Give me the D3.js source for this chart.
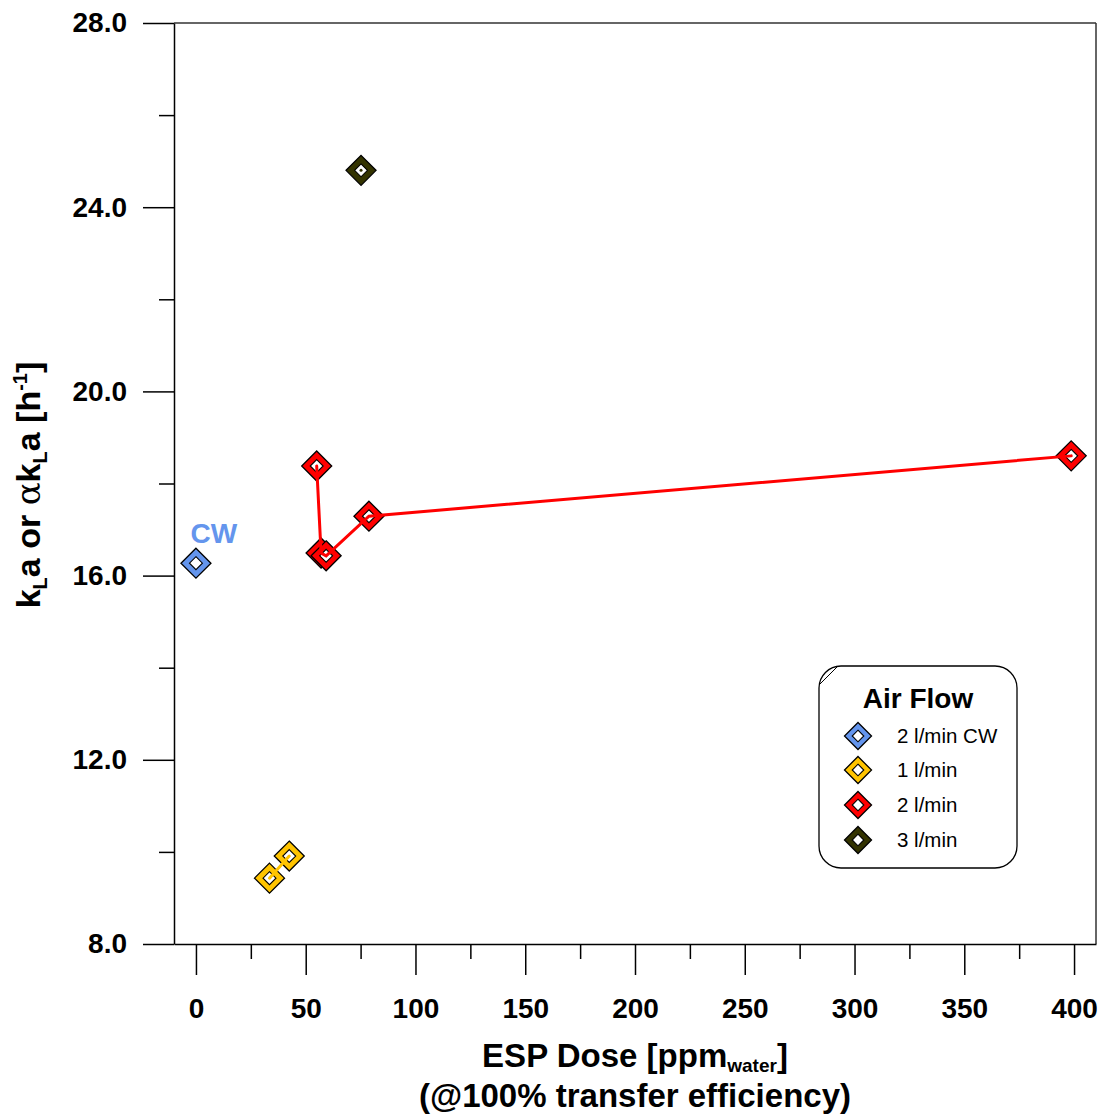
<!DOCTYPE html>
<html><head><meta charset="utf-8">
<script src="https://cdn.jsdelivr.net/npm/d3@7"></script>
<style>
body{margin:0;background:#fff;}
svg{display:block;font-family:"Liberation Sans",Arial,sans-serif;}
</style></head>
<body><svg id="c" width="1102" height="1119"></svg>
<script>
// ---- data ----
const seriesNames = ["2 l/min CW", "1 l/min", "2 l/min", "3 l/min"];
const seriesColors = ["#6495ED", "#FFC400", "#FF0000", "#333300"];
const cwX = [0];          const cwY = [16.27];
const f1X = [33.5, 42.5]; const f1Y = [9.43, 9.91];
const f2X = [55, 57, 59.3, 78.8, 398.7]; const f2Y = [18.38, 16.49, 16.43, 17.29, 18.6];
const f3X = [75.2];       const f3Y = [24.8];
const xMajor = [0, 50, 100, 150, 200, 250, 300, 350, 400];
const xMinor = [25, 75, 125, 175, 225, 275, 325, 375];
const yMajor = [8, 12, 16, 20, 24, 28];
const yMinor = [10, 14, 18, 22, 26];

const series = [
  {name: seriesNames[0], color: seriesColors[0], xs: cwX, ys: cwY, line: false},
  {name: seriesNames[1], color: seriesColors[1], xs: f1X, ys: f1Y, line: true},
  {name: seriesNames[2], color: seriesColors[2], xs: f2X, ys: f2Y, line: true},
  {name: seriesNames[3], color: seriesColors[3], xs: f3X, ys: f3Y, line: true}
];

const svg = d3.select("#c");
const L = 174, R = 1096, T = 23, B = 944;
const x = d3.scaleLinear().domain([-10, 410]).range([L, R]);
const y = d3.scaleLinear().domain([8, 28]).range([B, T]);

// frame top/right
svg.append("line").attr("x1", L).attr("x2", R).attr("y1", T).attr("y2", T).attr("stroke", "#333").attr("stroke-width", 1.5);
svg.append("line").attr("x1", R).attr("x2", R).attr("y1", T).attr("y2", B).attr("stroke", "#333").attr("stroke-width", 1.5);

// axes
const fmt = d3.format(".1f");
const gx = svg.append("g").attr("transform", `translate(0,${B})`)
  .call(d3.axisBottom(x).tickValues(xMajor).tickSize(31).tickSizeOuter(0).tickPadding(23).tickFormat(d3.format("d")));
const gxm = svg.append("g").attr("transform", `translate(0,${B})`)
  .call(d3.axisBottom(x).tickValues(xMinor).tickSize(15).tickSizeOuter(0).tickFormat(""));
const gy = svg.append("g").attr("transform", `translate(${L},0)`)
  .call(d3.axisLeft(y).tickValues(yMajor).tickSize(31).tickSizeOuter(0).tickPadding(16).tickFormat(fmt));
const gym = svg.append("g").attr("transform", `translate(${L},0)`)
  .call(d3.axisLeft(y).tickValues(yMinor).tickSize(15).tickSizeOuter(0).tickFormat(""));
gxm.select(".domain").remove(); gym.select(".domain").remove();
svg.selectAll(".domain, .tick line").attr("stroke", "#000").attr("stroke-width", 1.5);
svg.selectAll(".tick text").attr("font-family", '"Liberation Sans",Arial,sans-serif')
  .attr("font-size", 28).attr("font-weight", "bold").attr("fill", "#000");

// markers
function diamond(g, cx, cy, r, color) {
  const ri = r * 0.43;
  g.append("path").attr("d", `M${cx},${cy - r}L${cx + r},${cy}L${cx},${cy + r}L${cx - r},${cy}Z`)
    .attr("fill", color).attr("stroke", "#000").attr("stroke-width", 1.3);
  g.append("path").attr("d", `M${cx},${cy - ri}L${cx + ri},${cy}L${cx},${cy + ri}L${cx - ri},${cy}Z`)
    .attr("fill", "#fff").attr("stroke", "#000").attr("stroke-width", 1.1);
}
const gm = svg.append("g");
series.forEach(s => {
  s.xs.forEach((xv, i) => diamond(gm, x(xv), y(s.ys[i]), 15, s.color));
});
// lines drawn over marker centres
const lineGen = d3.line().x(d => x(d[0])).y(d => y(d[1]));
series.filter(s => s.line).forEach(s => {
  const pts = s.xs.map((xv, i) => [xv, s.ys[i]]);
  const p = pts.length > 1 ? lineGen(pts) : `M${x(pts[0][0])},${y(pts[0][1])}l0.01,0`;
  svg.append("path").attr("d", p).attr("fill", "none").attr("stroke", s.color)
    .attr("stroke-width", 3).attr("stroke-linecap", "round");
});

// CW label
svg.append("text").attr("x", x(0) + 18).attr("y", 543).attr("text-anchor", "middle")
  .attr("font-size", 28).attr("font-weight", "bold").attr("fill", seriesColors[0]).text("CW");

// legend
const lg = svg.append("g");
lg.append("rect").attr("x", 819).attr("y", 666).attr("width", 198).attr("height", 202).attr("rx", 22)
  .attr("fill", "#fff").attr("stroke", "#000").attr("stroke-width", 1.3);
lg.append("line").attr("x1", 819).attr("y1", 685).attr("x2", 837).attr("y2", 667).attr("stroke", "#000").attr("stroke-width", 1);
lg.append("text").attr("x", 918).attr("y", 708).attr("text-anchor", "middle")
  .attr("font-size", 28).attr("font-weight", "bold").text("Air Flow");
const ly = [736, 770, 805, 840];
series.forEach((s, i) => {
  diamond(lg, 858, ly[i], 13.5, s.color);
  lg.append("text").attr("x", 897).attr("y", ly[i] + 7).attr("font-size", 20.5).text(s.name);
});

// x title
const xt = svg.append("text").attr("x", 635).attr("y", 1067).attr("text-anchor", "middle")
  .attr("font-size", 33).attr("font-weight", "bold");
xt.append("tspan").text("ESP Dose [ppm");
xt.append("tspan").attr("font-size", 19).attr("dy", 5).text("water");
xt.append("tspan").attr("dy", -5).text("]");
svg.append("text").attr("x", 635).attr("y", 1107).attr("text-anchor", "middle")
  .attr("font-size", 33).attr("font-weight", "bold").text("(@100% transfer efficiency)");

// y title
const yt = svg.append("text").attr("transform", "translate(40,485) rotate(-90)").attr("text-anchor", "middle")
  .attr("font-size", 34).attr("font-weight", "bold");
yt.append("tspan").text("k");
yt.append("tspan").attr("font-size", 20).attr("dy", 7).text("L");
yt.append("tspan").attr("dy", -7).text("a or ");
yt.append("tspan").attr("font-family", '"DejaVu Serif","Liberation Serif",serif').attr("font-weight", "normal").text("α");
yt.append("tspan").text("k");
yt.append("tspan").attr("font-size", 20).attr("dy", 7).text("L");
yt.append("tspan").attr("dy", -7).text("a [h");
yt.append("tspan").attr("font-size", 20).attr("dy", -13).text("-1");
yt.append("tspan").attr("dy", 13).text("]");
</script></body></html>
